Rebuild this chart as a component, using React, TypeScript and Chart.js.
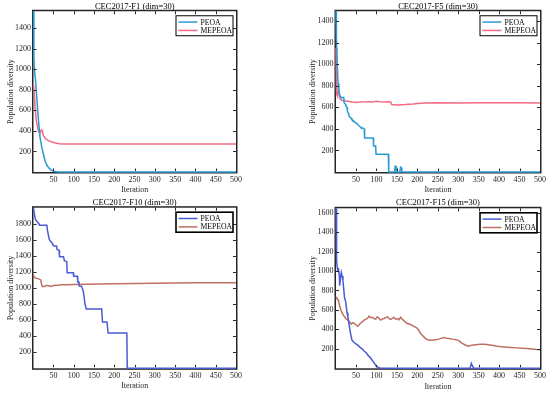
import React, { useEffect, useRef } from "react";
import { Chart, registerables } from "chart.js";

Chart.register(...registerables);

const FONT = "'Liberation Serif', 'Times New Roman', serif";
const AXIS_COLOR = "#262626";

const X_TICKS = [50, 100, 150, 200, 250, 300, 350, 400, 450, 500];
const SERIES_NAMES = ["PEOA", "MEPEOA"];

// ---------- CEC2017-F1 ----------
const F1_TITLE = "CEC2017-F1 (dim=30)";
const F1_Y_TICKS = [200, 400, 600, 800, 1000, 1200, 1400];
const F1_Y_MAX = 1565;
const F1_PEOA_X = [1, 2, 4, 6, 8, 11, 14, 17, 21, 25, 30, 35, 40, 45, 50, 58, 70, 500];
const F1_PEOA_Y = [1565, 1100, 960, 900, 780, 620, 470, 340, 250, 180, 100, 60, 35, 18, 8, 3, 0, 0];
const F1_MEPEOA_X = [1, 3, 5, 8, 11, 14, 17, 19, 21, 23, 25, 28, 32, 38, 45, 55, 65, 80, 150, 250, 350, 500];
const F1_MEPEOA_Y = [850, 760, 620, 500, 440, 390, 375, 400, 410, 400, 355, 340, 320, 305, 295, 283, 275, 272, 272, 272, 272, 272];

// ---------- CEC2017-F5 ----------
const F5_TITLE = "CEC2017-F5 (dim=30)";
const F5_Y_TICKS = [200, 400, 600, 800, 1000, 1200, 1400];
const F5_Y_MAX = 1490;
const F5_PEOA_X = [1, 2, 4, 6, 8, 11, 13, 20, 21, 24, 25, 28, 29, 32, 33, 38, 40, 45, 47, 52, 55, 60, 62, 68, 70, 71, 92, 93, 98, 99, 129, 130, 144, 146, 148, 149, 157, 159, 161, 162, 500];
const F5_PEOA_Y = [1490, 1250, 1000, 820, 740, 700, 690, 690, 640, 630, 610, 600, 560, 540, 515, 500, 485, 470, 460, 450, 435, 420, 410, 405, 400, 315, 315, 240, 240, 165, 165, 0, 0, 55, 50, 0, 0, 45, 40, 0, 0];
const F5_MEPEOA_X = [1, 2, 3, 5, 7, 9, 11, 14, 20, 30, 40, 50, 60, 70, 80, 90, 100, 110, 120, 130, 135, 137, 150, 170, 190, 200, 220, 250, 300, 350, 400, 450, 500];
const F5_MEPEOA_Y = [1150, 900, 720, 700, 760, 740, 680, 665, 660, 655, 648, 645, 648, 650, 652, 648, 655, 650, 648, 650, 648, 625, 622, 625, 630, 635, 640, 643, 640, 642, 642, 643, 640];

// ---------- CEC2017-F10 ----------
const F10_TITLE = "CEC2017-F10 (dim=30)";
const F10_Y_TICKS = [200, 400, 600, 800, 1000, 1200, 1400, 1600, 1800];
const F10_Y_MAX = 2000;
const F10_PEOA_X = [1, 3, 6, 9, 14, 16, 34, 35, 38, 40, 44, 47, 50, 58, 59, 64, 65, 75, 77, 80, 83, 84, 99, 100, 109, 110, 113, 114, 120, 121, 124, 128, 131, 169, 171, 182, 185, 231, 232, 500];
const F10_PEOA_Y = [1995, 1920, 1855, 1830, 1805, 1780, 1780, 1730, 1650, 1605, 1575, 1560, 1525, 1520, 1480, 1470, 1390, 1390, 1340, 1335, 1330, 1190, 1190, 1145, 1145, 1075, 1075, 1025, 1020, 1000, 950, 800, 740, 740, 578, 578, 440, 440, 0, 0];
const F10_MEPEOA_X = [1, 3, 5, 10, 15, 19, 21, 23, 28, 32, 36, 40, 45, 50, 60, 70, 85, 100, 130, 160, 200, 250, 300, 350, 400, 450, 500];
const F10_MEPEOA_Y = [1160, 1135, 1125, 1120, 1110, 1100, 1040, 1020, 1020, 1030, 1030, 1025, 1018, 1030, 1035, 1040, 1042, 1045, 1047, 1050, 1052, 1055, 1060, 1062, 1064, 1065, 1065];

// ---------- CEC2017-F15 ----------
const F15_TITLE = "CEC2017-F15 (dim=30)";
const F15_Y_TICKS = [200, 400, 600, 800, 1000, 1200, 1400, 1600];
const F15_Y_MAX = 1645;
const F15_PEOA_X = [1, 2, 3, 5, 7, 9, 10, 12, 14, 16, 18, 20, 22, 24, 26, 28, 30, 33, 36, 40, 45, 50, 55, 60, 65, 70, 75, 80, 85, 90, 95, 100, 105, 110, 329, 332, 334, 336, 338, 500];
const F15_PEOA_Y = [1645, 1300, 1100, 1010, 1020, 960, 850, 930, 985, 950, 900, 810, 720, 700, 640, 570, 530, 450, 370, 290, 265, 250, 235, 215, 200, 175, 160, 130, 110, 80, 50, 20, 8, 0, 0, 50, 30, 15, 0, 0];
const F15_MEPEOA_X = [1, 3, 7, 10, 13, 16, 19, 22, 25, 30, 34, 38, 42, 46, 50, 54, 58, 62, 66, 70, 74, 78, 82, 86, 90, 94, 98, 102, 106, 110, 114, 118, 122, 127, 131, 135, 139, 143, 147, 151, 155, 159, 163, 167, 171, 175, 180, 186, 192, 196, 200, 204, 208, 212, 216, 220, 224, 228, 232, 240, 248, 256, 265, 272, 277, 285, 293, 301, 309, 317, 325, 333, 343, 354, 362, 370, 382, 395, 407, 419, 431, 443, 455, 467, 480, 492, 500];
const F15_MEPEOA_Y = [735, 720, 700, 640, 600, 570, 547, 530, 512, 495, 478, 454, 470, 461, 445, 433, 450, 468, 480, 495, 505, 512, 536, 520, 524, 512, 505, 529, 515, 495, 505, 512, 520, 529, 510, 502, 515, 524, 505, 512, 498, 524, 505, 490, 475, 461, 455, 444, 430, 420, 410, 385, 358, 340, 323, 305, 295, 292, 289, 292, 295, 305, 317, 310, 306, 300, 295, 285, 258, 240, 228, 238, 243, 248, 246, 244, 236, 227, 222, 217, 213, 210, 207, 204, 199, 194, 192];

const TOP_COLORS = ["#2A9BD2", "#F26B83"];
const BOTTOM_COLORS = ["#4A5BD4", "#BF6F63"];

type Panel = {
  title: string;
  yTicks: number[];
  yMax: number;
  series: [number[], number[]][];
  colors: string[];
  pos: { left: number; top: number; width: number; height: number };
  area: { l: number; t: number; r: number; b: number };
  titleY: number;
  yTitleX: number;
  xTitleY: number;
  legendBorder: number;
};

const PANELS: Panel[] = [
  {
    title: F1_TITLE, yTicks: F1_Y_TICKS, yMax: F1_Y_MAX,
    series: [[F1_PEOA_X, F1_PEOA_Y], [F1_MEPEOA_X, F1_MEPEOA_Y]],
    colors: TOP_COLORS,
    pos: { left: 0, top: 0, width: 275, height: 196 },
    area: { l: 33.5, t: 11, r: 236, b: 172 },
    titleY: 7, yTitleX: 11, xTitleY: 190, legendBorder: 1,
  },
  {
    title: F5_TITLE, yTicks: F5_Y_TICKS, yMax: F5_Y_MAX,
    series: [[F5_PEOA_X, F5_PEOA_Y], [F5_MEPEOA_X, F5_MEPEOA_Y]],
    colors: TOP_COLORS,
    pos: { left: 275, top: 0, width: 275, height: 196 },
    area: { l: 61, t: 11, r: 265, b: 172 },
    titleY: 7, yTitleX: 38, xTitleY: 190, legendBorder: 1,
  },
  {
    title: F10_TITLE, yTicks: F10_Y_TICKS, yMax: F10_Y_MAX,
    series: [[F10_PEOA_X, F10_PEOA_Y], [F10_MEPEOA_X, F10_MEPEOA_Y]],
    colors: BOTTOM_COLORS,
    pos: { left: 0, top: 196, width: 275, height: 197 },
    area: { l: 33.5, t: 11.7, r: 236, b: 172.3 },
    titleY: 6.7, yTitleX: 11, xTitleY: 190.3, legendBorder: 1.6,
  },
  {
    title: F15_TITLE, yTicks: F15_Y_TICKS, yMax: F15_Y_MAX,
    series: [[F15_PEOA_X, F15_PEOA_Y], [F15_MEPEOA_X, F15_MEPEOA_Y]],
    colors: BOTTOM_COLORS,
    pos: { left: 275, top: 196, width: 275, height: 197 },
    area: { l: 61, t: 12.3, r: 265, b: 172.3 },
    titleY: 6.7, yTitleX: 37.7, xTitleY: 190.7, legendBorder: 1.6,
  },
];

const matlabFrame = {
  id: "matlabFrame",
  beforeDatasetsDraw(chart: any) {
    const { ctx, chartArea: a } = chart;
    ctx.save();
    ctx.strokeStyle = AXIS_COLOR;
    ctx.lineWidth = 1.5;
    ctx.strokeRect(a.left - 0.75, a.top - 0.75, a.right - a.left + 1.5, a.bottom - a.top + 1.5);
    ctx.restore();
  },
  afterDatasetsDraw(chart: any, _args: any, opts: any) {
    const { ctx, chartArea: a, scales } = chart;
    ctx.save();
    // inner ticks
    ctx.strokeStyle = AXIS_COLOR;
    ctx.lineWidth = 1;
    ctx.beginPath();
    scales.x.ticks.forEach((t: any) => {
      const px = Math.round(scales.x.getPixelForValue(t.value)) + 0.5;
      ctx.moveTo(px, a.bottom - 1);
      ctx.lineTo(px, a.bottom - 3.5);
      ctx.moveTo(px, a.top);
      ctx.lineTo(px, a.top + 3);
    });
    scales.y.ticks.forEach((t: any) => {
      const py = Math.round(scales.y.getPixelForValue(t.value)) + 0.5;
      ctx.moveTo(a.left, py);
      ctx.lineTo(a.left + 3, py);
      ctx.moveTo(a.right, py);
      ctx.lineTo(a.right - 3, py);
    });
    ctx.stroke();

    // legend
    const w = 57;
    const h = 20;
    const lx = a.right - 60;
    const ly = a.top + 4.5;
    ctx.fillStyle = "#ffffff";
    ctx.fillRect(lx, ly, w, h);
    ctx.lineWidth = opts.border || 1;
    ctx.strokeStyle = "#000000";
    ctx.strokeRect(lx, ly, w, h);
    ctx.font = `7.7px ${FONT}`;
    ctx.textBaseline = "middle";
    ctx.textAlign = "left";
    chart.data.datasets.forEach((ds: any, i: number) => {
      const y = ly + 6.3 + i * 8.4;
      ctx.strokeStyle = ds.borderColor;
      ctx.lineWidth = 1.5;
      ctx.beginPath();
      ctx.moveTo(lx + 2.5, y);
      ctx.lineTo(lx + 21.5, y);
      ctx.stroke();
      ctx.fillStyle = "#000000";
      ctx.fillText(ds.label, lx + 24.5, y + 0.5);
    });
    ctx.restore();
  },
};

function PanelChart({ p }: { p: Panel }) {
  const ref = useRef<HTMLCanvasElement | null>(null);
  useEffect(() => {
    if (!ref.current) return;
    const { area, pos } = p;
    const fontSize = 8;
    const titleLH = 8.5;
    const titlePadTop = p.titleY - titleLH / 2;
    const titlePadBottom = Math.max(area.t - titleLH - titlePadTop, 0);
    const xAxisH = pos.height - area.b;
    const chart = new Chart(ref.current, {
      type: "line",
      data: {
        datasets: p.series.map(([xs, ys], i) => ({
          label: SERIES_NAMES[i],
          data: xs.map((x, j) => ({ x, y: ys[j] })),
          borderColor: p.colors[i],
          backgroundColor: p.colors[i],
          borderWidth: 1.5,
          pointRadius: 0,
          tension: 0,
          fill: false,
          clip: false,
        })),
      },
      options: {
        responsive: false,
        animation: false,
        events: [],
        layout: { padding: { left: 0, top: 0, right: pos.width - area.r, bottom: 0 } },
        plugins: {
          legend: { display: false },
          tooltip: { enabled: false },
          title: {
            display: true,
            text: p.title,
            fullSize: false,
            color: "#000000",
            font: { family: FONT, size: 8.5, lineHeight: 1, weight: "normal" },
            padding: { top: titlePadTop, bottom: titlePadBottom },
          },
          matlabFrame: { border: p.legendBorder },
        } as any,
        scales: {
          x: {
            type: "linear",
            min: 1,
            max: 500,
            afterBuildTicks: (s: any) => {
              s.ticks = X_TICKS.map((v) => ({ value: v }));
            },
            afterFit: (s: any) => {
              s.height = xAxisH;
            },
            grid: { display: false, drawTicks: false },
            border: { display: false },
            ticks: {
              color: "#262626",
              font: { family: FONT, size: fontSize },
              padding: 3,
              maxRotation: 0,
              autoSkip: false,
              callback: (v: any) => String(v),
            },
            title: {
              display: true,
              text: "Iteration",
              color: "#262626",
              font: { family: FONT, size: fontSize, lineHeight: 1.2 },
              padding: { top: 0, bottom: pos.height - p.xTitleY - 4.8 },
            },
          },
          y: {
            type: "linear",
            min: 0,
            max: p.yMax,
            afterBuildTicks: (s: any) => {
              s.ticks = p.yTicks.map((v) => ({ value: v }));
            },
            afterFit: (s: any) => {
              s.width = area.l;
            },
            grid: { display: false, drawTicks: false },
            border: { display: false },
            ticks: {
              color: "#262626",
              font: { family: FONT, size: fontSize },
              padding: 2.5,
              autoSkip: false,
              callback: (v: any) => String(v),
            },
            title: {
              display: true,
              text: "Population diversity",
              color: "#262626",
              font: { family: FONT, size: fontSize, lineHeight: 1.2 },
              padding: { top: p.yTitleX - 4.8, bottom: 0 },
            },
          },
        },
      },
      plugins: [matlabFrame],
    } as any);
    return () => chart.destroy();
  }, [p]);
  return (
    <canvas
      ref={ref}
      width={p.pos.width}
      height={p.pos.height}
      style={{
        position: "absolute",
        left: p.pos.left,
        top: p.pos.top,
        width: p.pos.width,
        height: p.pos.height,
      }}
    />
  );
}

export default function App() {
  return (
    <div
      style={{
        position: "fixed",
        left: 0,
        top: 0,
        width: 550,
        height: 393,
        background: "#ffffff",
        overflow: "hidden",
      }}
    >
      {PANELS.map((p, i) => (
        <PanelChart key={i} p={p} />
      ))}
    </div>
  );
}
